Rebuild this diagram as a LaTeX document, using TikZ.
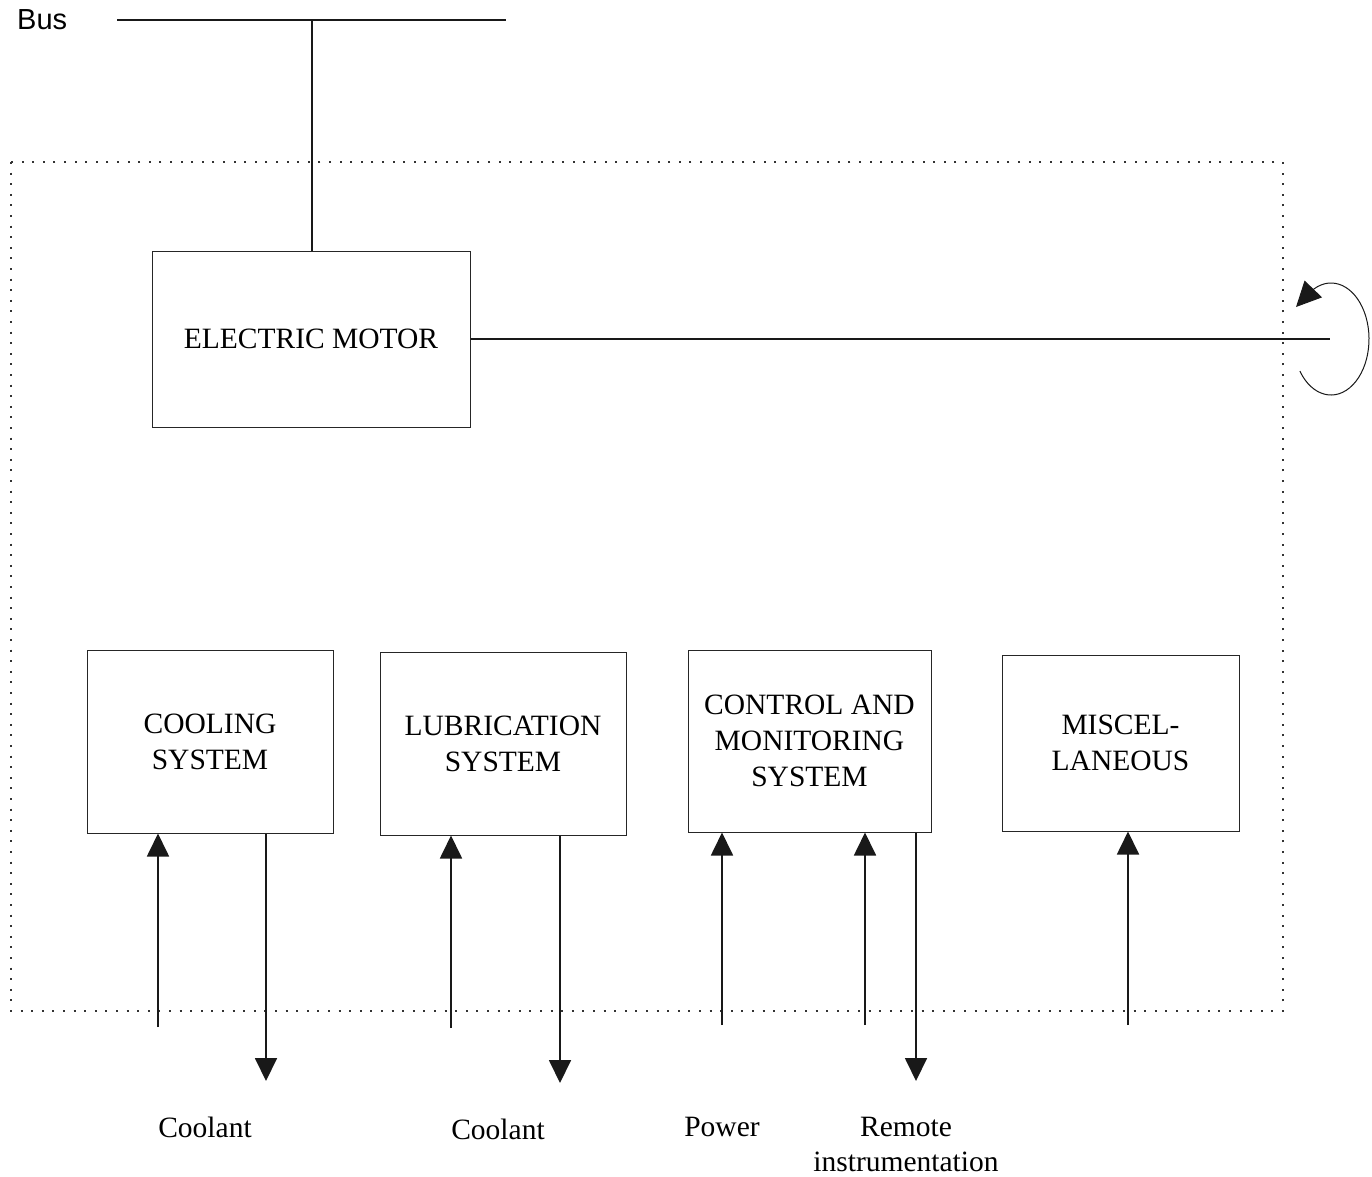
\documentclass[tikz,border=0pt]{standalone}
\usepackage{fontspec}
\setmainfont{Liberation Serif}
\newfontfamily\busfont{Liberation Sans}
\usetikzlibrary{arrows.meta,calc}
\begin{document}
\begin{tikzpicture}[x=1pt,y=-1pt,
  unit/.style={draw=black!85,line width=1pt,align=center,inner sep=0pt,
    font=\fontsize{29.5}{36}\selectfont},
  wire/.style={line width=1.8pt,black!90},
  flow/.style={wire,-{Triangle[length=23pt,width=22pt]}},
  lbl/.style={font=\fontsize{29.5}{35}\selectfont,align=center,inner sep=0pt},
  border/.style={line width=1.8pt,black!80,dash pattern=on 2pt off 8.6pt}]
\useasboundingbox (0,0) rectangle (1372,1176);

% equipment boundary
\draw[border] (11,162) rectangle (1283,1011);

% supply bus
\node[font=\busfont\fontsize{29}{35}\selectfont,anchor=west,inner sep=0pt] (bus) at (17,20) {Bus};
\coordinate (busL) at (117,20);
\coordinate (busR) at (506,20);
\coordinate (tap) at (312,20);
\draw[wire] (busL) -- (busR);

% blocks
\node[unit,minimum width=318pt,minimum height=176pt] (motor) at (311,339) {ELECTRIC MOTOR};
\node[unit,minimum width=246pt,minimum height=183pt] (cool) at (210,741.5) {COOLING\\SYSTEM};
\node[unit,minimum width=246pt,minimum height=183pt] (lub) at (503,743.5) {LUBRICATION\\SYSTEM};
\node[unit,minimum width=243pt,minimum height=182pt] (ctrl) at (809.5,741) {CONTROL AND\\MONITORING\\SYSTEM};
\node[unit,minimum width=237pt,minimum height=176pt] (misc) at (1120.5,743) {MISCEL-\\LANEOUS};

\draw[wire] (tap) -- (tap |- motor.north);

% output shaft and its sense of rotation
\coordinate (shaftEnd) at (1330,339);
\draw[wire] (motor.east) -- (shaftEnd);
\coordinate (rot) at (1331,339);
\coordinate (rotTip) at (1296,307);
\draw[line width=1pt,black!90,-{Triangle[length=25pt,width=24pt]}]
  ($(rot)+(145:38 and 56)$) arc[start angle=145,end angle=-122,x radius=38,y radius=56]
  -- (rotTip);

% cooling system flows
\coordinate (c1) at (158,1027);
\coordinate (c2) at (266,1081);
\draw[flow] (c1) -- (c1 |- cool.south);
\draw[flow] (c2 |- cool.south) -- (c2);

% lubrication system flows
\coordinate (l1) at (451,1028);
\coordinate (l2) at (560,1083);
\draw[flow] (l1) -- (l1 |- lub.south);
\draw[flow] (l2 |- lub.south) -- (l2);

% control and monitoring flows
\coordinate (k1) at (722,1025);
\coordinate (k2) at (865,1025);
\coordinate (k3) at (916,1081);
\draw[flow] (k1) -- (k1 |- ctrl.south);
\draw[flow] (k2) -- (k2 |- ctrl.south);
\draw[flow] (k3 |- ctrl.south) -- (k3);

% miscellaneous
\coordinate (m1) at (1128,1025);
\draw[flow] (m1) -- (m1 |- misc.south);

% external labels
\node[lbl] (coolant1) at (205,1127) {Coolant};
\node[lbl] (coolant2) at (498,1129) {Coolant};
\node[lbl] (power) at (722,1127) {Power};
\node[lbl] (remote) at (906,1144) {Remote\\instrumentation};
\end{tikzpicture}
\end{document}
